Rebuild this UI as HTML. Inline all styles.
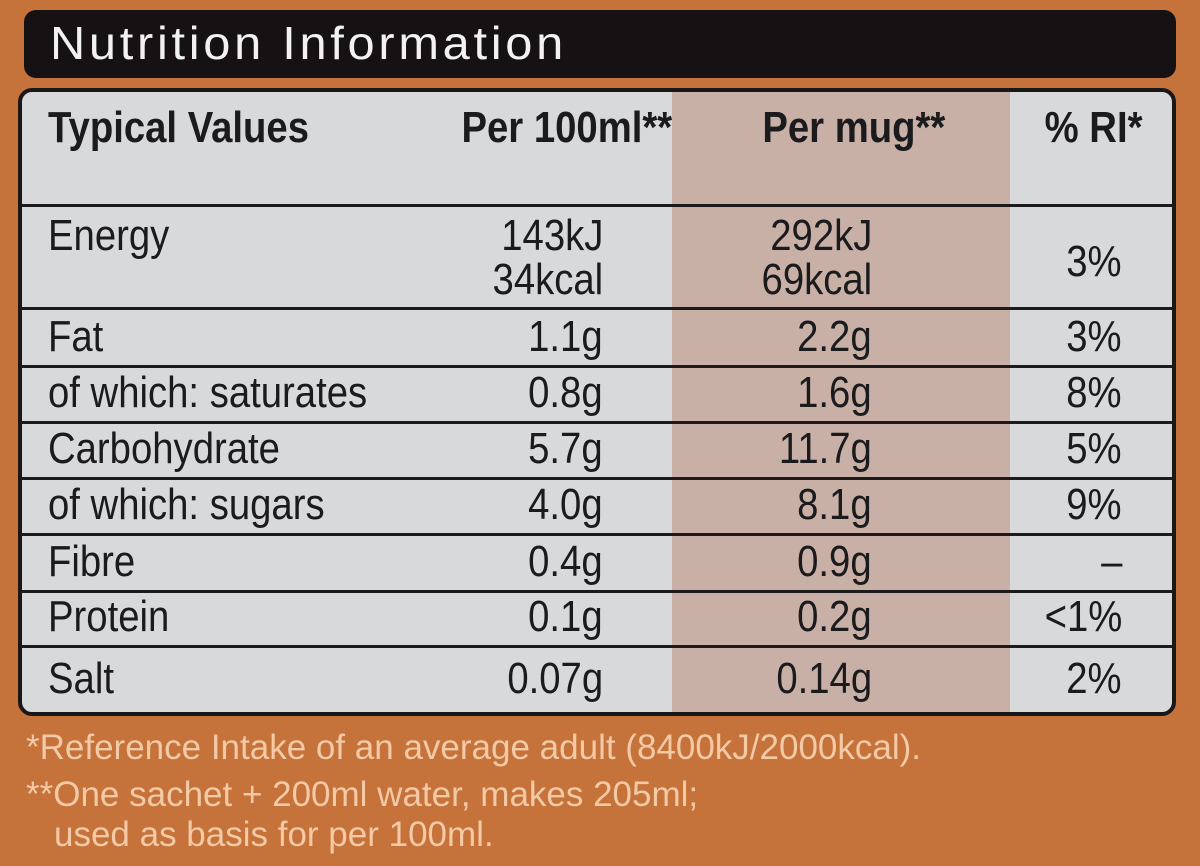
<!DOCTYPE html>
<html><head><style>
body{margin:0;width:1200px;height:866px;overflow:hidden;background:#c5733a;font-family:"Liberation Sans Narrow","Liberation Sans",sans-serif;position:relative}
.bar{position:absolute;left:24px;top:10px;width:1152px;height:68px;background:#161213;border-radius:12px}
.bar span{position:absolute;left:26px;top:6px;color:#f2f2f2;font-family:"Liberation Sans",sans-serif;font-size:46px;letter-spacing:3.5px;transform-origin:left center;transform:scaleX(1.06);white-space:nowrap}
.tbl{position:absolute;left:18px;top:88px;width:1150px;height:620px;background:#d8d9db;border:4px solid #1a1718;border-radius:14px;overflow:hidden}
.mug{position:absolute;left:650px;top:0;width:338px;height:100%;background:#c8b0a6}
.hl{position:absolute;left:0;width:100%;height:3px;background:#1c1a1b}
.t{position:absolute;font-size:44px;color:#1b1a1c;white-space:nowrap;line-height:1;transform-origin:left center;transform:scaleX(.87)}
.r{transform-origin:right center}
.b{font-weight:bold}
.f{position:absolute;left:26px;color:#f3c9a6;font-size:35px;white-space:nowrap}
</style></head><body>
<div class="bar"><span>Nutrition Information</span></div>
<div class="tbl">
<div class="mug"></div>
<div class="hl" style="top:112px"></div>
<div class="hl" style="top:215px"></div>
<div class="hl" style="top:273px"></div>
<div class="hl" style="top:329px"></div>
<div class="hl" style="top:385px"></div>
<div class="hl" style="top:441px"></div>
<div class="hl" style="top:498px"></div>
<div class="hl" style="top:553px"></div>
</div>
<div id="txt"></div>
<script>
const rows=[
["Typical Values","Per 100ml**","Per mug**","% RI*",128,1],
["Energy","","","3%",236,0],
["Fat","1.1g","2.2g","3%",337,0],
["of which: saturates","0.8g","1.6g","8%",393,0],
["Carbohydrate","5.7g","11.7g","5%",449,0],
["of which: sugars","4.0g","8.1g","9%",505,0],
["Fibre","0.4g","0.9g","–",562,0],
["Protein","0.1g","0.2g","<1%",617,0],
["Salt","0.07g","0.14g","2%",679,0]];
let h="";
function esc(s){return s.replace(/</g,"&lt;")}
function t(x,y,s,cls,right){
 if(right) h+=`<div class="t r ${cls}" style="right:${1200-x}px;top:${y-22}px">${esc(s)}</div>`;
 else h+=`<div class="t ${cls}" style="left:${x}px;top:${y-22}px">${esc(s)}</div>`;}
for(const r of rows){
 const b=r[5]?"b":"";
 t(48,r[4],r[0],b,false);
 if(r[5]){t(672,r[4],r[1],b,true);t(945,r[4],r[2],b,true);t(1142,r[4],r[3],b,true);}
 else{
  if(r[1])t(603,r[4],r[1],"",true);
  if(r[2])t(872,r[4],r[2],"",true);
  t(1122,r[0]=="Energy"?262:r[4],r[3],"",true);
 }
}
t(603,236,"143kJ","",true);t(603,280,"34kcal","",true);
t(872,236,"292kJ","",true);t(872,280,"69kcal","",true);
document.getElementById("txt").innerHTML=h;
</script>
<div class="f" style="top:728px">*Reference Intake of an average adult (8400kJ/2000kcal).</div>
<div class="f" style="top:775px">**One sachet + 200ml water, makes 205ml;</div>
<div class="f" style="top:815px;left:54px">used as basis for per 100ml.</div>
</body></html>
